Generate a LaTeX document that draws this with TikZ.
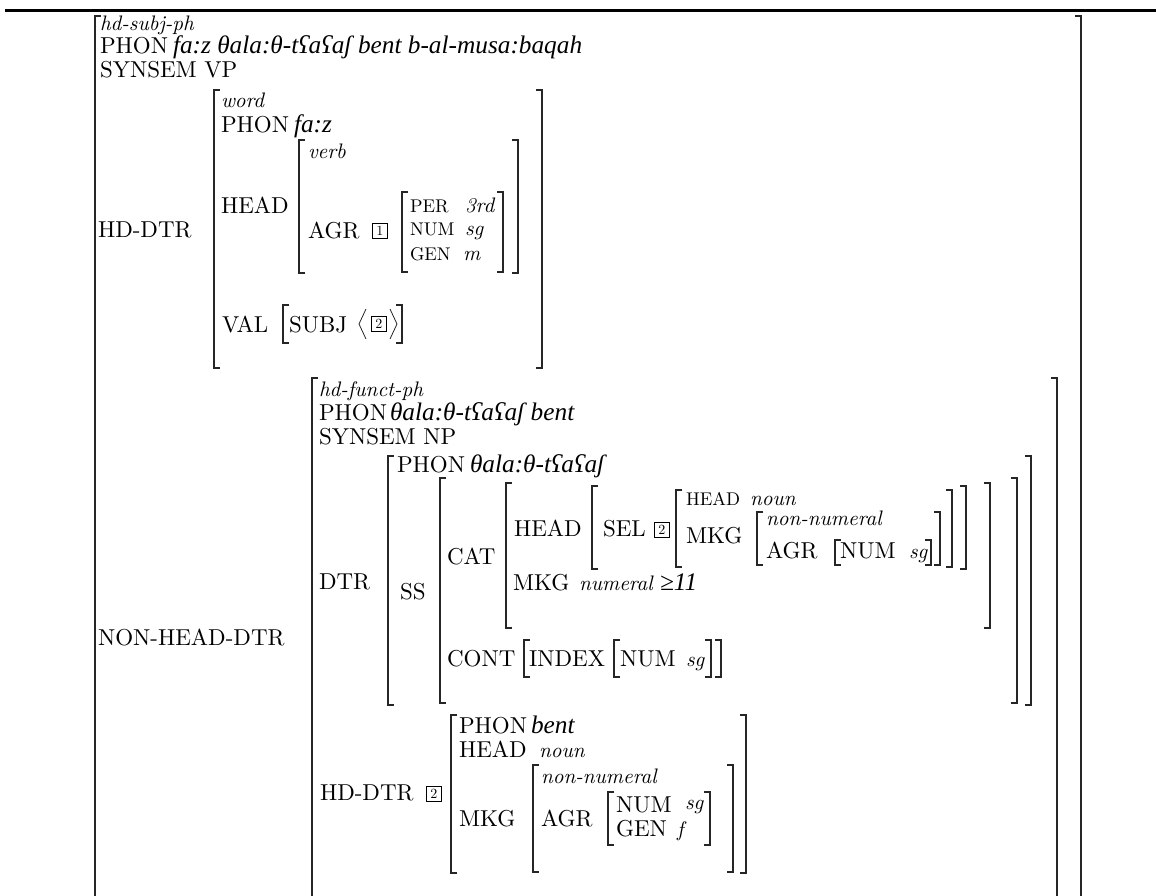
\documentclass[tikz,border=0pt]{standalone}
\usepackage{fontspec}
\setmainfont{lmroman10}[Extension=.otf, UprightFont=*-regular, ItalicFont=*-italic, BoldFont=*-bold, BoldItalicFont=*-bolditalic]
\newfontfamily\phonfont{Liberation Serif}
\newcommand{\lbrk}[3]{\draw[brk] ({#1+6},#2) -- (#1,#2) -- (#1,#3) -- ({#1+6},#3);}
\newcommand{\rbrk}[3]{\draw[brk] ({#1-6},#2) -- (#1,#2) -- (#1,#3) -- ({#1-6},#3);}
\tikzset{
  txt/.style={anchor=base west, inner sep=0pt, outer sep=0pt, font=\fontsize{23}{24}\selectfont},
  it/.style={txt, font=\fontsize{21}{22}\selectfont\itshape},
  ph/.style={txt, font=\phonfont\itshape\fontsize{25.3}{26}\selectfont},
  sm/.style={txt, font=\fontsize{18.4}{19}\selectfont},
  tag/.style={draw, line width=0.7pt, inner sep=0pt, minimum width=15pt, minimum height=15pt, anchor=south west, font=\fontsize{14}{14}\selectfont},
  brk/.style={line width=1.25pt, draw=black!85},
  ang/.style={line width=0.8pt, draw=black!85}
}
\begin{document}
\begin{tikzpicture}[x=1pt,y=-1pt]
\useasboundingbox (0,0) rectangle (1156,896);
\fill[white] (0,0) rectangle (1156,896);
\draw[line width=3pt] (5,11) -- (1156,11);
% outer
\lbrk{95}{16}{905} \rbrk{1081}{16}{905}
\node[it] (tsubj) at (100,31) {hd-subj-ph};
\node[txt] (tphon) at (100,54) {PHON};
\node[ph] (tphonv) at (173,54) {fa:z θala:θ-tʕaʕaʃ bent b-al-musa:baqah};
\node[txt] (tsyn) at (100,78) {SYNSEM VP};
% HD-DTR
\node[txt] (lhd) at (98,237) {HD-DTR};
\lbrk{214}{90}{368} \rbrk{542}{90}{368}
\node[it] (word) at (221,108) {word};
\node[txt] (hphon) at (221,133) {PHON};
\node[ph] (hphonv) at (294,133) {fa:z};
\lbrk{299}{140}{273} \rbrk{518}{140}{273}
\node[it] (verb) at (308,159) {verb};
\node[txt] (hhead) at (221,214) {HEAD};
\node[txt] (agr) at (308,238) {AGR};
\node[tag] (t1) at (372,239) {1};
\lbrk{402}{192}{272} \rbrk{503}{192}{272}
\node[sm] (per) at (410,212) {PER}; \node[it] (per3) at (465,212) {3rd};
\node[sm] (num) at (410,236) {NUM}; \node[it] (numsg) at (465,236) {sg};
\node[sm] (gen) at (410,260) {GEN}; \node[it] (genm) at (463,260) {m};
\node[txt] (val) at (222,332) {VAL};
\lbrk{283}{305}{343} \rbrk{402}{305}{343}
\node[txt] (subj) at (289,332) {SUBJ};
\draw[ang] (366,309) -- (359,324) -- (366,339);
\node[tag] (t2a) at (371,332) {2};
\draw[ang] (390,309) -- (397,324) -- (390,339);
% NON-HEAD-DTR
\node[txt] (lnhd) at (98,645) {NON-HEAD-DTR};
\lbrk{312}{378}{905} \rbrk{1057}{378}{905}
\node[it] (funct) at (319,396) {hd-funct-ph};
\node[txt] (fphon) at (319,420) {PHON};
\node[ph] (fphonv) at (390,420) {θala:θ-tʕaʕaʃ bent};
\node[txt] (fsyn) at (319,444) {SYNSEM NP};
\node[txt] (ldtr) at (319,589) {DTR};
\lbrk{388}{456}{705} \rbrk{1031}{456}{705}
\node[txt] (dphon) at (397,472) {PHON};
\node[ph] (dphonv) at (470,472) {θala:θ-tʕaʕaʃ};
\node[txt] (lss) at (400,599) {SS};
\lbrk{440}{478}{703} \rbrk{1017}{478}{703}
\node[txt] (lcat) at (447,564) {CAT};
\lbrk{506}{483}{628} \rbrk{990}{483}{628}
\node[txt] (chead) at (514,536) {HEAD};
\lbrk{592}{486}{569} \rbrk{966}{486}{569}
\node[txt] (sel) at (603,536) {SEL};
\node[tag] (t2b) at (654,538) {2};
\lbrk{676}{490}{567} \rbrk{952}{490}{567}
\node[sm] (shead) at (686,505) {HEAD}; \node[it] (snoun) at (750,505) {noun};
\node[txt] (smkg) at (686,543) {MKG};
\lbrk{757}{512}{565} \rbrk{940}{512}{565}
\node[it] (snonnum) at (766,525) {non-numeral};
\node[txt] (sagr) at (766,558) {AGR};
\lbrk{835}{540}{565} \rbrk{931}{540}{565}
\node[txt] (snum) at (840,558) {NUM}; \node[it] (ssg) at (909,558) {sg};
\node[txt] (cmkg) at (513,590) {MKG}; \node[it] (cnum) at (579,590) {numeral}; \node[ph] (c11) at (660,590) {≥11};
\node[txt] (cont) at (447,666) {CONT};
\lbrk{524}{640}{677} \rbrk{721}{640}{677}
\node[txt] (index) at (529,666) {INDEX};
\lbrk{614}{640}{677} \rbrk{711}{640}{677}
\node[txt] (inum) at (620,666) {NUM}; \node[it] (isg) at (686,666) {sg};
% HD-DTR 2
\node[txt] (lhd2) at (320,800) {HD-DTR};
\node[tag] (t2c) at (426,802) {2};
\lbrk{451}{715}{873} \rbrk{746}{715}{873}
\node[txt] (bphon) at (459,733) {PHON}; \node[ph] (bphonv) at (531,733) {bent};
\node[txt] (bhead) at (459,757) {HEAD}; \node[it] (bnoun) at (539,757) {noun};
\node[txt] (bmkg) at (459,826) {MKG};
\lbrk{533}{765}{872} \rbrk{733}{765}{872}
\node[it] (bnonnum) at (541,783) {non-numeral};
\node[txt] (bagr) at (541,826) {AGR};
\lbrk{608}{792}{845} \rbrk{710}{792}{845}
\node[txt] (bnum) at (616,812) {NUM}; \node[it] (bsg) at (685,809) {sg};
\node[txt] (bgen) at (616,836) {GEN}; \node[it] (bf) at (677,836) {f};
\end{tikzpicture}
\end{document}
